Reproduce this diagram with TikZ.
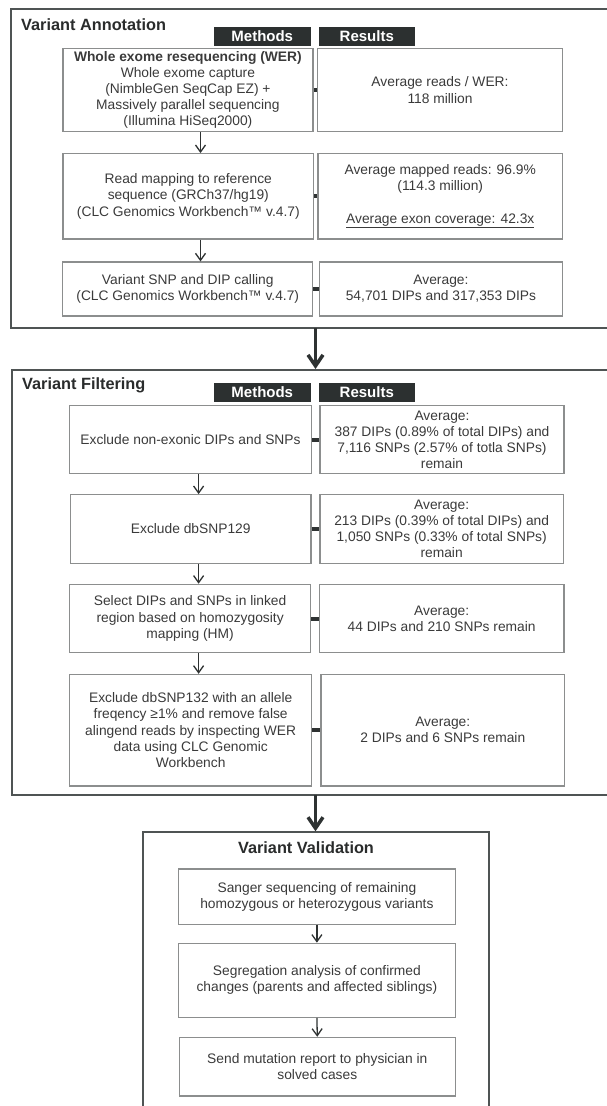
\documentclass[tikz,border=0pt]{standalone}
\usepackage{fontspec}
\setmainfont{Liberation Sans}
\usetikzlibrary{arrows.meta}
\definecolor{framec}{HTML}{4F5454}
\definecolor{boxc}{HTML}{8C8E8E}
\definecolor{hdr}{HTML}{2C3030}
\definecolor{txt}{HTML}{3A3A3A}
\definecolor{ttl}{HTML}{2A2C2C}
\definecolor{arrc}{HTML}{2E3232}
\tikzset{
  frame/.style={draw=framec, line width=2pt},
  box/.style={draw=boxc, line width=1.2pt, rectangle, inner sep=0pt, align=center,
    font=\fontsize{13.8}{16.2}\selectfont, text=txt},
  hdrbox/.style={fill=hdr, text=white, rectangle, inner sep=0pt, minimum width=96.5pt,
    minimum height=19pt, font=\bfseries\fontsize{15}{17}\selectfont},
  ttlnode/.style={text=ttl, inner sep=0pt, font=\bfseries\fontsize{16.3}{19}\selectfont},
  linkbar/.style={draw=arrc, line width=4pt},
  smallarr/.style={draw=arrc, line width=1.3pt, -{Straight Barb[length=7pt,width=10pt]}},
  bigarr/.style={draw=arrc, line width=3.5pt, -{Straight Barb[length=11pt,width=15pt]}}
}
\begin{document}
\begin{tikzpicture}[x=1pt,y=-1pt]
\useasboundingbox (0,0) rectangle (607,1106);
% frames
\draw[frame] (10.5,9) rectangle (614,328);
\draw[frame] (12.4,370) rectangle (614,795);
\draw[frame] (143.2,832.3) rectangle (488.6,1114);
\coordinate (aBot) at (315.5,328);
\coordinate (fTop) at (315.5,369);
\coordinate (fBot) at (315.5,795);
\coordinate (vTop) at (315.5,831.3);
\coordinate (xa) at (200.5,0);
\coordinate (xf) at (198.6,0);
% titles
\node[ttlnode, anchor=west] (tA) at (21,25) {Variant Annotation};
\node[ttlnode, anchor=west] (tF) at (22,385.7) {Variant Filtering};
\node[ttlnode] (tV) at (306,847.7) {Variant Validation};
% headers
\node[hdrbox] (hAm) at (262.25,36) {Methods};
\node[hdrbox] (hAr) at (366.8,36) {Results};
\node[hdrbox] (hFm) at (262.25,392.2) {Methods};
\node[hdrbox] (hFr) at (366.8,392.2) {Results};
% annotation boxes
\node[box, minimum width=250pt, minimum height=83.4pt] (A1m) at (187.9,90)
  {\textbf{Whole exome resequencing (WER)}\\Whole exome capture\\(NimbleGen SeqCap EZ) +\\Massively parallel sequencing\\(Illumina HiSeq2000)};
\node[box, minimum width=245pt, minimum height=83.4pt] (A1r) at (440,90)
  {Average reads / WER:\\118 million};
\node[box, minimum width=250.6pt, minimum height=85.3pt] (A2m) at (188.3,196.3)
  {Read mapping to reference\\sequence (GRCh37/hg19)\\(CLC Genomics Workbench™ v.4.7)};
\node[box, minimum width=244.5pt, minimum height=85.3pt] (A2r) at (440.25,196.3)
  {Average mapped reads: 96.9\%\\(114.3 million)\\[16.2pt]\underline{Average exon coverage: 42.3x}};
\node[box, minimum width=250.1pt, minimum height=54pt] (A3m) at (187.75,289)
  {Variant SNP and DIP calling\\(CLC Genomics Workbench™ v.4.7)};
\node[box, minimum width=243.1pt, minimum height=54pt] (A3r) at (440.95,289)
  {Average:\\54,701 DIPs and 317,353 DIPs};
% filtering boxes
\node[box, minimum width=242pt, minimum height=68pt] (F1m) at (190.5,439.7)
  {Exclude non-exonic DIPs and SNPs};
\node[box, minimum width=244pt, minimum height=68pt] (F1r) at (442,439.7)
  {Average:\\387 DIPs (0.89\% of total DIPs) and\\7,116 SNPs (2.57\% of totla SNPs)\\remain};
\node[box, minimum width=240.5pt, minimum height=68.6pt] (F2m) at (190.75,529)
  {Exclude dbSNP129};
\node[box, minimum width=243.3pt, minimum height=68.6pt] (F2r) at (441.65,529)
  {Average:\\213 DIPs (0.39\% of total DIPs) and\\1,050 SNPs (0.33\% of total SNPs)\\remain};
\node[box, minimum width=240.8pt, minimum height=68.4pt] (F3m) at (190.1,618.5)
  {Select DIPs and SNPs in linked\\region based on homozygosity\\mapping (HM)};
\node[box, minimum width=244.6pt, minimum height=68.4pt] (F3r) at (441.7,618.5)
  {Average:\\44 DIPs and 210 SNPs remain};
\node[box, minimum width=242pt, minimum height=111.7pt] (F4m) at (190.7,730.2)
  {Exclude dbSNP132 with an allele\\freqency ≥1\% and remove false\\alingend reads by inspecting WER\\data using CLC Genomic\\Workbench};
\node[box, minimum width=243.5pt, minimum height=111.7pt] (F4r) at (442.75,730.2)
  {Average:\\2 DIPs and 6 SNPs remain};
% validation boxes
\node[box, minimum width=276.8pt, minimum height=55.3pt] (V1) at (316.9,896.7)
  {Sanger sequencing of remaining\\homozygous or heterozygous variants};
\node[box, minimum width=276.8pt, minimum height=74pt] (V2) at (316.9,980.3)
  {Segregation analysis of confirmed\\changes (parents and affected siblings)};
\node[box, minimum width=276pt, minimum height=58.7pt] (V3) at (317.3,1066.7)
  {Send mutation report to physician in\\solved cases};
% link bars
\foreach \r in {A1,A2,A3,F1,F2,F3,F4}{
  \draw[linkbar] (\r m.east) -- (\r r.west);
}
% small arrows
\draw[smallarr] (A1m.south -| xa) -- (A2m.north -| xa);
\draw[smallarr] (A2m.south -| xa) -- (A3m.north -| xa);
\draw[smallarr] (F1m.south -| xf) -- (F2m.north -| xf);
\draw[smallarr] (F2m.south -| xf) -- (F3m.north -| xf);
\draw[smallarr] (F3m.south -| xf) -- (F4m.north -| xf);
\draw[smallarr] (V1.south) -- (V2.north);
\draw[smallarr] (V2.south) -- (V3.north);
% big arrows
\draw[bigarr] (aBot) -- (fTop);
\draw[bigarr] (fBot) -- (vTop);
\end{tikzpicture}
\end{document}
